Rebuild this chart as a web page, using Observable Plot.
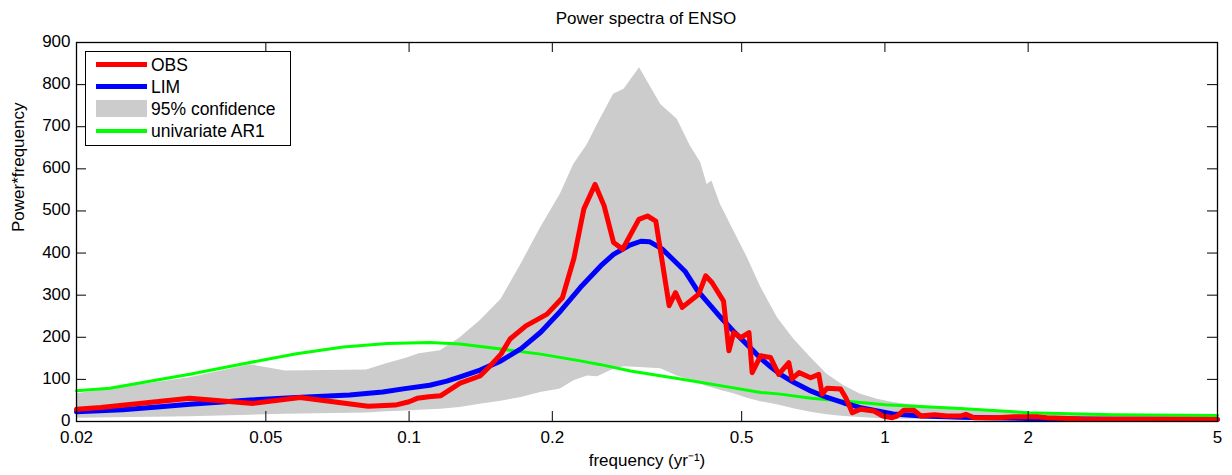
<!DOCTYPE html>
<html><head><meta charset="utf-8">
<script src="https://cdn.jsdelivr.net/npm/d3@7"></script>
<script src="https://cdn.jsdelivr.net/npm/@observablehq/plot@0.6"></script>
<style>
body{margin:0;background:#fff;font-family:"Liberation Sans",Arial,Helvetica,sans-serif;}
#wrap{position:relative;width:1232px;height:475px;overflow:hidden;}
#title{height:34px;box-sizing:border-box;padding-top:9px;padding-left:60px;text-align:center;font-size:17px;line-height:20px;color:#000;}
#legend{position:absolute;left:85px;top:51px;width:206px;height:95px;box-sizing:border-box;border:1.5px solid #000;background:#fff;}
.row{position:absolute;left:0;width:100%;height:22px;}
.sw{position:absolute;left:10px;width:51px;}
.lab{position:absolute;left:65px;top:0;line-height:22px;font-size:17.5px;white-space:nowrap;color:#000;}
</style></head>
<body>
<div id="wrap">
<div id="title">Power spectra of ENSO</div>
<div id="chart"></div>
<div id="legend"></div>
</div>
<script>
// ---- data ----
const xTicks = [0.02, 0.05, 0.1, 0.2, 0.5, 1, 2, 5];
const xTickLabels = ["0.02", "0.05", "0.1", "0.2", "0.5", "1", "2", "5"];
const yTicks = [0, 100, 200, 300, 400, 500, 600, 700, 800, 900];

const obsFreq  = [0.02,0.0225,0.0346,0.047,0.059,0.082,0.0935,0.1,0.104,0.11,0.1164,0.128,0.141,0.148,0.156,0.163,0.176,0.195,0.21,0.222,0.233,0.246,0.257,0.269,0.281,0.304,0.317,0.33,0.352,0.363,0.375,0.406,0.42,0.433,0.458,0.47,0.481,0.498,0.518,0.526,0.548,0.575,0.598,0.628,0.638,0.66,0.698,0.726,0.738,0.756,0.807,0.827,0.854,0.889,0.948,0.99,1.036,1.06,1.096,1.15,1.19,1.27,1.35,1.44,1.48,1.54,1.72,1.87,2.1,2.19,2.58,5];
const obsPower = [29,33,55,43,57,36,39,47,55,59,61,91,108,132,160,196,227,255,294,387,505,563,512,425,409,480,488,476,275,306,271,302,346,330,286,168,211,199,211,116,156,152,112,140,101,116,104,112,65,79,77,57,21,29,25,13,9,13,27,27,13,16,13,13,17,9,9,11,11,9,6,5];

const limFreq  = [0.02,0.025,0.03,0.0346,0.0463,0.058,0.075,0.088,0.098,0.1105,0.12,0.128,0.141,0.156,0.172,0.189,0.208,0.229,0.253,0.269,0.29,0.307,0.32,0.34,0.36,0.38,0.403,0.43,0.451,0.48,0.514,0.548,0.575,0.603,0.643,0.7,0.756,0.82,0.889,1.04,1.2,1.44,2,3,5];
const limPower = [23,28,35,41,51,57,63,70,78,86,96,106,122,144,173,212,262,318,370,397,418,428,427,410,383,357,312,275,248,215,182,150,130,112,93,72,57,44,33,18,13,10,7,5.5,5];

const bandFreq  = [0.02,0.0346,0.0463,0.055,0.0814,0.09,0.0986,0.105,0.1164,0.128,0.141,0.156,0.172,0.189,0.208,0.222,0.237,0.249,0.269,0.283,0.305,0.338,0.366,0.39,0.41,0.423,0.433,0.451,0.481,0.514,0.548,0.594,0.643,0.698,0.756,0.82,0.889,0.964,1.04,1.23,1.44,2,3,5];
const bandUpper = [66,104,135,120,122,138,150,161,168,199,239,290,374,460,540,611,658,706,777,789,840,753,718,654,615,563,571,516,453,389,320,247,196,152,112,85,65,53,45,35,29,20,14,12];
const bandLower = [8,11,15,17,20,23,25,27,29,33,41,48,57,69,77,97,108,106,124,130,128,125,108,98,89,83,80,74,66,55,47,40,30,22,16,12,9.5,7,6,5,4,3,2,2];

const ar1Freq  = [0.02,0.0235,0.0346,0.0463,0.058,0.0727,0.09,0.1105,0.128,0.156,0.189,0.229,0.253,0.292,0.372,0.474,0.548,0.603,0.7,0.889,1.0,1.44,2.0,3.0,5.0];
const ar1Power = [73,79,112,140,161,177,185,187.5,184,172,160,144,135,120,101,81,69,65,55,45,40,31,21,16,14];

const legendLabels = ["OBS", "LIM", "95% confidence", "univariate AR1"];
const legendColors = ["#ff0000", "#0000ff", "#cccccc", "#00ff00"];

// ---- tables ----
const obs = obsFreq.map((f, i) => ({f, p: obsPower[i]}));
const lim = limFreq.map((f, i) => ({f, p: limPower[i]}));
const band = bandFreq.map((f, i) => ({f, lo: bandLower[i], hi: bandUpper[i]}));
const ar1 = ar1Freq.map((f, i) => ({f, p: ar1Power[i]}));
const xt = xTicks.map((v, i) => ({v, label: xTickLabels[i]}));

const W = 1232, H = 441, mT = 8, mB = 54, mL = 76, mR = 15;
const innerH = H - mT - mB, innerW = W - mL - mR, tickLen = 10;
const font = "'Liberation Sans', Arial, Helvetica, sans-serif";

const chart = Plot.plot({
  width: W, height: H,
  marginTop: mT, marginBottom: mB, marginLeft: mL, marginRight: mR,
  style: {fontFamily: font, fontSize: "17px", color: "#000", background: "#fff", overflow: "visible"},
  x: {type: "log", domain: [0.02, 5], axis: null},
  y: {domain: [0, 900]},
  marks: [
    Plot.areaY(band, {x: "f", y1: "lo", y2: "hi", fill: "#cccccc"}),
    Plot.line(ar1, {x: "f", y: "p", stroke: "#00ff00", strokeWidth: 3, curve: "linear"}),
    Plot.line(lim, {x: "f", y: "p", stroke: "#0000ff", strokeWidth: 5, curve: "linear"}),
    Plot.line(obs, {x: "f", y: "p", stroke: "#ff0000", strokeWidth: 5, curve: "linear", strokeLinejoin: "round"}),
    Plot.tickX(xTicks, {x: d => d, insetTop: innerH - tickLen, stroke: "#000", strokeWidth: 1}),
    Plot.tickX(xTicks, {x: d => d, insetBottom: innerH - tickLen, stroke: "#000", strokeWidth: 1}),
    Plot.tickY(yTicks, {y: d => d, insetRight: innerW - tickLen, stroke: "#000", strokeWidth: 1}),
    Plot.tickY(yTicks, {y: d => d, insetLeft: innerW - tickLen, stroke: "#000", strokeWidth: 1}),
    Plot.frame({stroke: "#000", strokeWidth: 1.3}),
    Plot.text(xt, {x: "v", text: "label", frameAnchor: "bottom", lineAnchor: "top", dy: 9, fontSize: 17, fill: "#000"}),
    Plot.axisY({ticks: yTicks, tickSize: 0, tickPadding: 6, tickFormat: d => String(d), label: null, fontSize: 17, dy: -1}),
    Plot.text(["frequency (yr⁻¹)"], {frameAnchor: "bottom", dy: 44, fontSize: 17, fill: "#000"}),
    Plot.text(["Power*frequency"], {frameAnchor: "left", rotate: -90, dx: -58, fontSize: 17, fill: "#000"})
  ]
});
document.getElementById("chart").appendChild(chart);

// ---- legend ----
const leg = document.getElementById("legend");
const swH = [5, 5, 17, 3.5];
legendLabels.forEach((lab, i) => {
  const row = document.createElement("div");
  row.className = "row";
  row.style.top = (1.5 + i * 22.2) + "px";
  const sw = document.createElement("div");
  sw.className = "sw";
  sw.style.height = swH[i] + "px";
  sw.style.top = (11 - swH[i] / 2) + "px";
  sw.style.background = legendColors[i];
  const t = document.createElement("div");
  t.className = "lab";
  t.textContent = lab;
  row.appendChild(sw); row.appendChild(t);
  leg.appendChild(row);
});
</script>
</body></html>
